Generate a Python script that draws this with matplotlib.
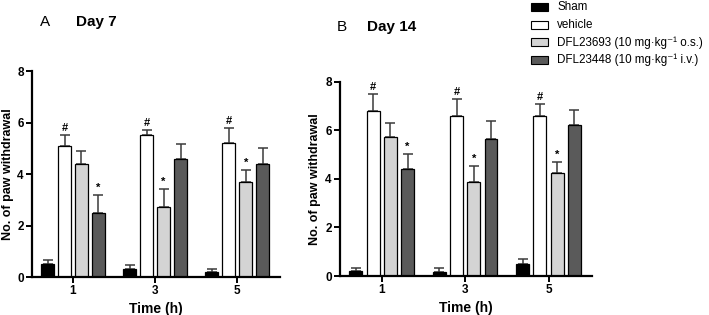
import numpy as np
import matplotlib
matplotlib.use("Agg")
import matplotlib.pyplot as plt
from matplotlib.patches import Rectangle

plt.rcParams["font.family"] = ["Liberation Sans", "DejaVu Sans"]

times = ["1", "3", "5"]
groups = ["Sham", "vehicle",
          "DFL23693 (10 mg\u00b7kg\u207b\u00b9 o.s.)",
          "DFL23448 (10 mg\u00b7kg\u207b\u00b9 i.v.)"]

# Day 7: mean and SEM per group, at 1, 3, 5 h
d7_mean = {
    "Sham": [0.5, 0.3, 0.2],
    "vehicle": [5.1, 5.5, 5.2],
    "DFL23693": [4.4, 2.73, 3.7],
    "DFL23448": [2.5, 4.58, 4.37],
}
d7_sem = {
    "Sham": [0.17, 0.15, 0.13],
    "vehicle": [0.4, 0.22, 0.57],
    "DFL23693": [0.48, 0.68, 0.47],
    "DFL23448": [0.67, 0.6, 0.65],
}
# Day 14
d14_mean = {
    "Sham": [0.2, 0.18, 0.48],
    "vehicle": [6.8, 6.6, 6.6],
    "DFL23693": [5.72, 3.89, 4.23],
    "DFL23448": [4.4, 5.65, 6.2],
}
d14_sem = {
    "Sham": [0.13, 0.15, 0.23],
    "vehicle": [0.68, 0.7, 0.48],
    "DFL23693": [0.59, 0.65, 0.46],
    "DFL23448": [0.64, 0.73, 0.65],
}
# significance marks: (group, time index, symbol)
d7_marks = [("vehicle", 0, "#"), ("vehicle", 1, "#"), ("vehicle", 2, "#"),
            ("DFL23448", 0, "*"), ("DFL23693", 1, "*"), ("DFL23693", 2, "*")]
d14_marks = [("vehicle", 0, "#"), ("vehicle", 1, "#"), ("vehicle", 2, "#"),
             ("DFL23448", 0, "*"), ("DFL23693", 1, "*"), ("DFL23693", 2, "*")]

keys = ["Sham", "vehicle", "DFL23693", "DFL23448"]
colors = ["black", "white", "#d4d4d4", "#5a5a5a"]
offsets = [-0.31, -0.103, 0.103, 0.31]
width = 0.155


def draw(ax, means, sems, marks):
    x = np.arange(len(times))
    for k, c, off, lab in zip(keys, colors, offsets, groups):
        m = np.array(means[k])
        s = np.array(sems[k])
        ax.bar(x + off, m, width, color=c, edgecolor="black",
               linewidth=0.9, label=lab, zorder=2)
        ax.errorbar(x + off, m, yerr=[np.zeros_like(s), s], fmt="none",
                    ecolor="#3a3a3a", elinewidth=1.1, capsize=3.5,
                    capthick=1.1, zorder=1)
    for k, i, sym in marks:
        j = keys.index(k)
        top = means[k][i] + sems[k][i]
        ax.text(i + offsets[j], top + 0.08, sym, ha="center", va="bottom",
                fontsize=8, fontweight="bold")
    ax.set_xlim(-0.5, 2.52)
    ax.set_ylim(0, 8)
    ax.set_yticks([0, 2, 4, 6, 8])
    ax.set_xticks(x)
    ax.set_xticklabels(times)
    ax.spines["top"].set_visible(False)
    ax.spines["right"].set_visible(False)
    for sp in ("left", "bottom"):
        ax.spines[sp].set_linewidth(1.6)
    ax.tick_params(width=1.4, length=4, labelsize=8.5, pad=2)
    for t in ax.get_xticklabels() + ax.get_yticklabels():
        t.set_fontweight("bold")
    ax.set_xlabel("Time (h)", fontsize=10, fontweight="bold", labelpad=3)
    ax.set_ylabel("No. of paw withdrawal", fontsize=9, fontweight="bold")
    ax.yaxis.set_label_coords(-0.074, 0.5)


fig = plt.figure(figsize=(7.09, 3.15), dpi=100)
axA = fig.add_axes([0.0451, 0.1206, 0.3498, 0.654])
axB = fig.add_axes([0.4795, 0.1238, 0.3554, 0.6168])

draw(axA, d7_mean, d7_sem, d7_marks)
draw(axB, d14_mean, d14_sem, d14_marks)

fig.text(0.056, 0.93, "A", fontsize=11, va="center")
fig.text(0.107, 0.93, "Day 7", fontsize=11, fontweight="bold", va="center")
fig.text(0.475, 0.915, "B", fontsize=11, va="center")
fig.text(0.517, 0.915, "Day 14", fontsize=11, fontweight="bold", va="center")

# legend, laid out by hand so every row has the same pitch
W, H = 709.0, 315.0
for n, (lab, c) in enumerate(zip(groups, colors)):
    yc = 7 + n * 17.7
    fig.patches.append(Rectangle((531 / W, (H - yc - 4) / H), 17 / W, 8 / H,
                                 transform=fig.transFigure, facecolor=c,
                                 edgecolor="black", linewidth=0.8))
    fig.text(557 / W, (H - yc) / H, lab, fontsize=8.4, va="center",
             ha="left")

fig.savefig("out.png", dpi=100)
